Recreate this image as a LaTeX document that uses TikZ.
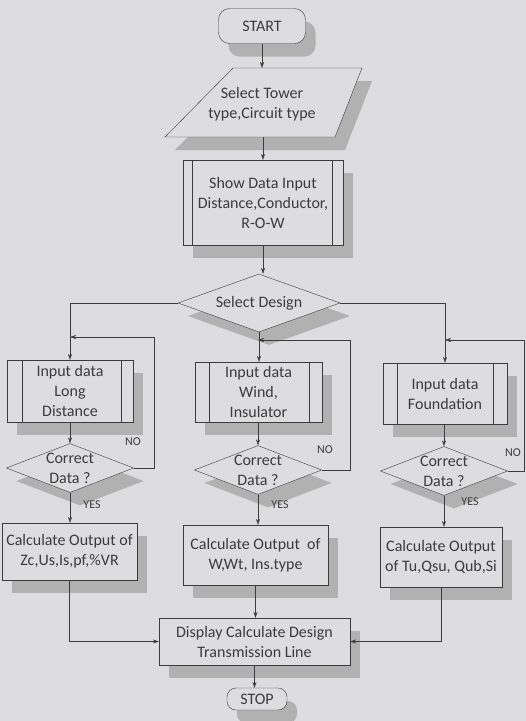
\documentclass[tikz,border=0pt]{standalone}
\usepackage{fontspec}
\setmainfont{Carlito}
\usetikzlibrary{arrows.meta, calc, positioning, shapes.geometric, shadows}
\definecolor{bgc}{RGB}{221,220,222}
\definecolor{inkc}{RGB}{60,60,60}
\definecolor{shc}{RGB}{178,177,178}

\begin{document}
\begin{tikzpicture}[x=1pt, y=-1pt, every node/.style={align=center, font=\fontsize{16}{20}\selectfont, text=inkc},
  sh/.style={drop shadow={shadow xshift=10pt, shadow yshift=-13pt, fill=shc, opacity=1}},
  term/.style={draw=inkc, fill=bgc, rounded corners=11pt, sh, inner sep=0pt},
  proc/.style={draw=inkc, fill=bgc, sh, inner sep=0pt},
  dec/.style={draw=inkc, fill=bgc, diamond, aspect=2.6, sh, inner sep=0pt},
  lbl/.style={font=\fontsize{12}{13}\selectfont},
  arr/.style={draw=inkc, -{Stealth[length=6pt,width=4pt]}}]
\path[use as bounding box, fill=bgc] (0,0) rectangle (526,721);

% top part
\node[term, minimum width=87pt, minimum height=35pt] (start) at (262,26) {START};
\coordinate (selTL) at (233,68);
\coordinate (selTR) at (362,68);
\coordinate (selBR) at (335,137);
\coordinate (selBL) at (165,137);
\fill[shc] ([shift={(10pt,-13pt)}]selTL) -- ([shift={(10pt,-13pt)}]selTR) -- ([shift={(10pt,-13pt)}]selBR) -- ([shift={(10pt,-13pt)}]selBL) -- cycle;
\filldraw[draw=inkc, fill=bgc] (selTL) -- (selTR) -- (selBR) -- (selBL) -- cycle;
\node (sel) at (262,104) {Select Tower\\type,Circuit type};
\node[proc, minimum width=160pt, minimum height=85pt] (show) at (263,202.5) {Show Data Input\\Distance,Conductor,\\R-O-W};
\node[dec, minimum width=162pt, minimum height=58pt] (des) at (259,303) {Select Design};

% three branches
\node[proc, minimum width=126pt, minimum height=62pt] (inA) at (70,391) {Input data\\Long\\Distance};
\node[proc, minimum width=127pt, minimum height=60pt] (inB) at (258.5,392) {Input data\\Wind,\\Insulator};
\node[proc, minimum width=124pt, minimum height=61pt] (inC) at (445,393.5) {Input data\\Foundation};
\foreach \n/\a/\b in {show/9/11, inA/15/12, inB/14/13, inC/14/14}
  \draw[inkc] ([xshift=\a pt]\n.north west) -- ([xshift=\a pt]\n.south west)
              ([xshift=-\b pt]\n.north east) -- ([xshift=-\b pt]\n.south east);

\node[dec, minimum width=122pt, minimum height=46pt] (chkA) at (70,468) {Correct\\Data ?};
\node[dec, minimum width=121pt, minimum height=47pt] (chkB) at (258,470) {Correct\\Data ?};
\node[dec, minimum width=119pt, minimum height=47pt] (chkC) at (444,471) {Correct\\Data ?};

\node[proc, minimum width=135pt, minimum height=57pt] (calA) at (69.5,551.5) {Calculate Output of\\Zc,Us,Is,pf,\%VR};
\node[proc, minimum width=145pt, minimum height=60pt] (calB) at (255.5,555) {Calculate Output\ \ of\\W,Wt, Ins.type};
\node[proc, minimum width=122pt, minimum height=60pt] (calC) at (441,557) {Calculate Output\\of Tu,Qsu, Qub,Si};

\node[proc, minimum width=191pt, minimum height=47pt] (disp) at (254.5,641.5) {Display Calculate Design\\Transmission Line};
\node[term, minimum width=60pt, minimum height=22pt, rounded corners=9pt] (stop) at (257,699) {STOP};

% loop corners
\coordinate (nA) at (154,337);
\coordinate (jA) at (70,337);
\coordinate (nB) at (350,340);
\coordinate (jB) at (258,340);
\coordinate (nC) at (524,340);
\coordinate (jC) at (445,340);

% connectors
\draw[arr] (start.south) -- (start.south |- selTL);
\draw[arr] (show.north |- selBL) -- (show.north);
\draw[arr] (show.south) -- (show.south |- des.north);
\draw[arr] (des.west) -| (inA.north);
\draw[arr] (des.south) -- (des.south |- inB.north);
\draw[arr] (des.east) -| (inC.north);
\draw[arr] (inA.south) -- (chkA.north);
\draw[arr] (inB.south -| chkB.north) -- (chkB.north);
\draw[arr] (inC.south -| chkC.north) -- (chkC.north);
\draw[arr] (chkA.east) -| (nA) -- (jA);
\draw[arr] (chkB.east) -| (nB) -- (jB);
\draw[arr] (chkC.east) -| (nC) -- (jC);
\draw[arr] (chkA.south) -- (chkA.south |- calA.north);
\draw[arr] (chkB.south) -- (chkB.south |- calB.north);
\draw[arr] (chkC.south) -- (chkC.south |- calC.north);
\draw[arr] (calA.south) |- (disp.west);
\draw[arr] (calB.south) -- (calB.south |- disp.north);
\draw[arr] (calC.south) |- (disp.east);
\draw[arr] (disp.south) -- (disp.south |- stop.north);

% labels
\node[lbl] (noA) at (133,442) {NO};
\node[lbl] (noB) at (325,450) {NO};
\node[lbl] (noC) at (513,453) {NO};
\node[lbl] (yesA) at (92,505) {YES};
\node[lbl] (yesB) at (280,505) {YES};
\node[lbl] (yesC) at (470,502) {YES};
\end{tikzpicture}
\end{document}
